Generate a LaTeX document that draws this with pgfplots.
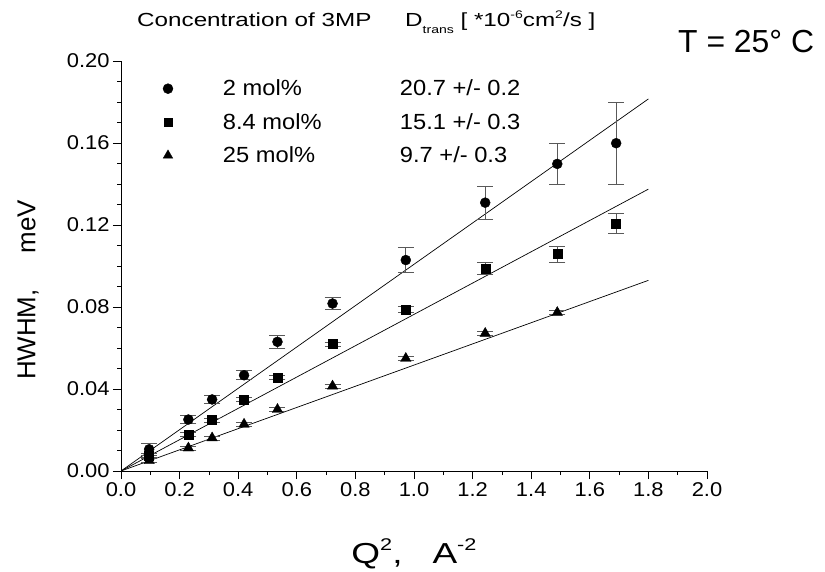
\documentclass[border=0pt]{standalone}
\usepackage{pgfplots}
\usepackage{pgfplotstable}
\pgfplotsset{compat=1.18}
\usepackage{fontspec}
\setmainfont{Liberation Sans}
\newfontfamily\headfont[FakeStretch=1.28]{Liberation Sans}
\newfontfamily\tickfont[FakeStretch=1.1]{Liberation Sans}
\newfontfamily\legfont[FakeStretch=1.08]{Liberation Sans}

\pgfplotstableread{
x y ey
0.096 0.0106 0.0030
0.230 0.0251 0.0020
0.311 0.0349 0.0020
0.420 0.0467 0.0022
0.534 0.0630 0.0030
0.722 0.0817 0.0030
0.972 0.1029 0.0060
1.243 0.1309 0.0080
1.489 0.1498 0.0100
1.690 0.1599 0.0200
}\circdata

\pgfplotstableread{
x y ey
0.096 0.0075 0.0010
0.230 0.0179 0.0010
0.311 0.0249 0.0010
0.420 0.0349 0.0010
0.534 0.0456 0.0010
0.722 0.0619 0.0010
0.972 0.0788 0.0015
1.243 0.0988 0.0030
1.489 0.1058 0.0040
1.690 0.1208 0.0050
}\squaredata

\pgfplotstableread{
x y ey
0.096 0.0050 0.0010
0.230 0.0112 0.0010
0.311 0.0161 0.0010
0.420 0.0228 0.0010
0.534 0.0300 0.0010
0.722 0.0414 0.0010
0.972 0.0549 0.0010
1.243 0.0671 0.0010
1.489 0.0773 0.0010
}\triangledata

\begin{document}
\begin{tikzpicture}
\useasboundingbox (0,0) rectangle (825bp,572bp);
\begin{axis}[
  at={(121bp,101bp)}, anchor=south west,
  scale only axis, width=586bp, height=410bp,
  xmin=0, xmax=2.0, ymin=0, ymax=0.20,
  axis x line*=bottom, axis y line*=left,
  axis line style={-, line width=0.8bp},
  xtick={0,0.2,0.4,0.6,0.8,1.0,1.2,1.4,1.6,1.8,2.0},
  ytick={0,0.04,0.08,0.12,0.16,0.20},
  minor x tick num=1, minor y tick num=3,
  tick align=outside,
  major tick length=8bp, minor tick length=4bp,
  every tick/.style={black, line width=0.8bp},
  scaled x ticks=false, scaled y ticks=false,
  /pgf/number format/assume math mode=true,
  xticklabel style={/pgf/number format/.cd, fixed, fixed zerofill, precision=1},
  yticklabel style={/pgf/number format/.cd, fixed, fixed zerofill, precision=2},
  tick label style={font=\tickfont\fontsize{20}{24}\selectfont},
  xlabel={Q\raisebox{13bp}{\fontsize{17}{17}\selectfont 2},\hspace{30bp}A\raisebox{13bp}{\fontsize{17}{17}\selectfont -2}},
  x label style={at={(axis description cs:0.5,-0.2244)}, anchor=base, font=\headfont\fontsize{29}{32}\selectfont},
  ylabel={HWHM,\hspace{36bp}meV},
  y label style={at={(axis description cs:-0.1587,0.4415)}, anchor=center, font=\fontsize{26}{30}\selectfont},
  legend cell align=left,
  legend style={at={(axis description cs:0.0546,0.9537)}, anchor=north west,
    draw=none, fill=none, inner sep=0pt, outer sep=0pt,
    row sep=16bp, column sep=45bp,
    nodes={inner sep=0pt},
    font=\legfont\fontsize{22}{26}\selectfont},
]
\addplot[black, line width=0.7bp, no marks, forget plot] coordinates {(0,0) (1.8,0.1815)};
\addplot[black, line width=0.7bp, no marks, forget plot] coordinates {(0,0) (1.8,0.1375)};
\addplot[black, line width=0.7bp, no marks, forget plot] coordinates {(0,0) (1.8,0.0930)};

\addplot[only marks, mark=*, mark size=5bp, black, mark options={fill=black},
  legend image code/.code={\path[draw=none, fill=none] (0bp,-4bp) rectangle (25bp,4bp);
    \path[draw=black, fill=black] plot[only marks, mark=*, mark size=5bp] coordinates {(15bp,0bp)};},
  error bars/.cd, y dir=both, y explicit,
  error bar style={black!65, line width=0.8bp},
  error mark options={rotate=90, mark size=8bp, black!65, line width=0.8bp}]
  table[x=x, y=y, y error=ey] {\circdata};
\addlegendentry{\makebox[177bp][l]{2 mol\%}20.7 +/- 0.2}

\addplot[only marks, mark=square*, mark size=4.5bp, black, mark options={fill=black},
  legend image code/.code={\path[draw=none, fill=none] (0bp,-4bp) rectangle (25bp,4bp);
    \path[draw=black, fill=black] plot[only marks, mark=square*, mark size=4bp] coordinates {(15bp,0bp)};},
  error bars/.cd, y dir=both, y explicit,
  error bar style={black!65, line width=0.8bp},
  error mark options={rotate=90, mark size=8bp, black!65, line width=0.8bp}]
  table[x=x, y=y, y error=ey] {\squaredata};
\addlegendentry{\makebox[177bp][l]{8.4 mol\%}15.1 +/- 0.3}

\addplot[only marks, mark=triangle*, mark size=6bp, black, mark options={fill=black},
  legend image code/.code={\path[draw=none, fill=none] (0bp,-4bp) rectangle (25bp,4bp);
    \path[draw=black, fill=black] plot[only marks, mark=triangle*, mark size=5.5bp] coordinates {(15bp,0bp)};},
  error bars/.cd, y dir=both, y explicit,
  error bar style={black!65, line width=0.8bp},
  error mark options={rotate=90, mark size=8bp, black!65, line width=0.8bp}]
  table[x=x, y=y, y error=ey] {\triangledata};
\addlegendentry{\makebox[177bp][l]{25 mol\%}9.7 +/- 0.3}
\end{axis}

\node[anchor=base west, inner sep=0pt, font=\headfont\fontsize{19}{22}\selectfont] at (137bp,545bp) {Concentration of 3MP};
\node[anchor=base west, inner sep=0pt, font=\headfont\fontsize{19}{22}\selectfont] at (405bp,545bp)
  {D\raisebox{-7bp}{\fontsize{11}{11}\selectfont trans} [ *10\raisebox{8bp}{\fontsize{11}{11}\selectfont -6}cm\raisebox{8bp}{\fontsize{11}{11}\selectfont 2}/s ]};
\node[anchor=base west, inner sep=0pt, font=\fontsize{32}{36}\selectfont] at (678bp,519bp) {T = 25\textdegree\ C};
\end{tikzpicture}
\end{document}
